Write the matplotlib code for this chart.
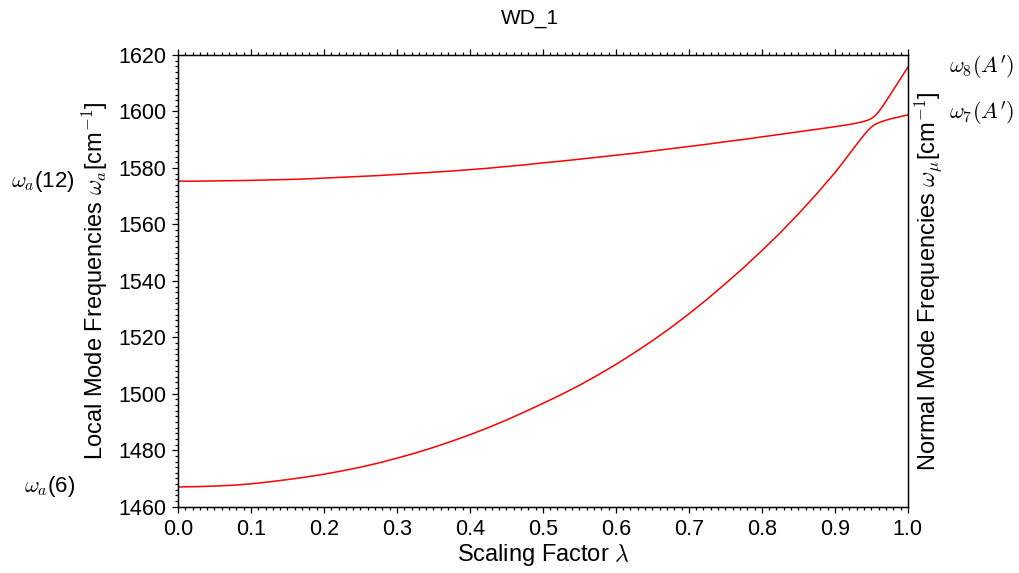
import matplotlib
matplotlib.use("Agg")
import matplotlib.pyplot as plt
import matplotlib.transforms as mtransforms
from matplotlib.ticker import MultipleLocator, FormatStrFormatter

plt.rcParams["font.family"] = ["Liberation Sans", "DejaVu Sans"]
plt.rcParams["mathtext.fontset"] = "cm"

# Scaling factor lambda and the two normal-mode branches (cm^-1)
lam = [0.0, 0.025, 0.05, 0.075, 0.1, 0.125, 0.15, 0.175, 0.2, 0.225, 0.25,
       0.275, 0.3, 0.325, 0.35, 0.375, 0.4, 0.425, 0.45, 0.475, 0.5, 0.525,
       0.55, 0.575, 0.6, 0.625, 0.65, 0.675, 0.7, 0.725, 0.75, 0.775, 0.8,
       0.825, 0.85, 0.875, 0.9, 0.91, 0.92, 0.93, 0.94, 0.945, 0.95, 0.955,
       0.96, 0.965, 0.97, 0.975, 0.98, 0.99, 1.0]
lower_branch = [1467.0, 1467.1, 1467.3, 1467.6, 1468.1, 1468.8, 1469.6,
                1470.5, 1471.5, 1472.7, 1474.0, 1475.5, 1477.2, 1479.0,
                1481.0, 1483.2, 1485.5, 1488.0, 1490.7, 1493.6, 1496.6,
                1499.7, 1503.0, 1506.6, 1510.4, 1514.5, 1518.8, 1523.4,
                1528.3, 1533.5, 1539.0, 1544.7, 1550.7, 1557.0, 1563.7,
                1570.8, 1578.3, 1581.6, 1585.0, 1588.4, 1591.7, 1593.2,
                1594.5, 1595.4, 1596.0, 1596.5, 1596.9, 1597.3, 1597.6,
                1598.2, 1598.8]
upper_branch = [1575.3, 1575.3, 1575.4, 1575.5, 1575.6, 1575.75, 1575.9,
                1576.1, 1576.4, 1576.7, 1577.0, 1577.3, 1577.7, 1578.1,
                1578.5, 1578.9, 1579.4, 1579.9, 1580.5, 1581.1, 1581.8,
                1582.4, 1583.1, 1583.8, 1584.5, 1585.2, 1586.0, 1586.8,
                1587.6, 1588.4, 1589.3, 1590.1, 1591.0, 1591.9, 1592.8,
                1593.7, 1594.6, 1595.0, 1595.4, 1595.9, 1596.5, 1596.9,
                1597.5, 1598.5, 1599.9, 1601.7, 1603.6, 1605.6, 1607.6,
                1611.6, 1615.7]

local_labels = [r"$\omega_a$(12)", r"$\omega_a$(6)"]
local_values = [1575.3, 1467.0]
normal_labels = [r"$\omega_8(A')$", r"$\omega_7(A')$"]
normal_values = [1615.7, 1599.3]

fig = plt.figure(figsize=(10.2, 5.73), dpi=100)
ax = fig.add_axes([0.1745, 0.1157, 0.7155, 0.7883])

ax.plot(lam, upper_branch, color="red", lw=1.1)
ax.plot(lam, lower_branch, color="red", lw=1.1)

ax.set_xlim(0.0, 1.0)
ax.set_ylim(1460, 1620)
ax.xaxis.set_major_locator(MultipleLocator(0.1))
ax.xaxis.set_minor_locator(MultipleLocator(0.01))
ax.yaxis.set_major_locator(MultipleLocator(20))
ax.yaxis.set_minor_locator(MultipleLocator(2))
ax.xaxis.set_major_formatter(FormatStrFormatter("%.1f"))
ax.tick_params(which="both", direction="out", top=True, right=True,
               labeltop=False, labelright=False, width=0.9, color="black")
ax.tick_params(which="major", length=4.5, labelsize=15.5, pad=4)
ax.tick_params(which="minor", length=2.2)
for s in ax.spines.values():
    s.set_linewidth(1.0)

ax.set_xlabel(r"Scaling Factor $\lambda$", fontsize=17, labelpad=2)
ax.set_ylabel(r"Local Mode Frequencies $\omega_a$[cm$^{-1}$]", fontsize=17,
              labelpad=6)

ax2 = ax.twinx()
ax2.set_ylim(ax.get_ylim())
ax2.set_yticks([])
ax2.set_ylabel(r"Normal Mode Frequencies $\omega_\mu$[cm$^{-1}$]",
               fontsize=17, labelpad=3)
ax2.tick_params(which="both", right=False, labelright=False)

fig.text(530 / 1020, 1 - 18 / 573, "WD_1", ha="center", va="center",
         fontsize=15)

side_tr = mtransforms.blended_transform_factory(fig.transFigure, ax.transData)
for txt, val in zip(local_labels, local_values):
    ax.text(75 / 1020, val, txt, transform=side_tr, ha="right", va="center",
            fontsize=16, clip_on=False)
for txt, val in zip(normal_labels, normal_values):
    ax.text(949 / 1020, val, txt, transform=side_tr, ha="left", va="center",
            fontsize=16, clip_on=False)

fig.savefig("out.png", dpi=100)
